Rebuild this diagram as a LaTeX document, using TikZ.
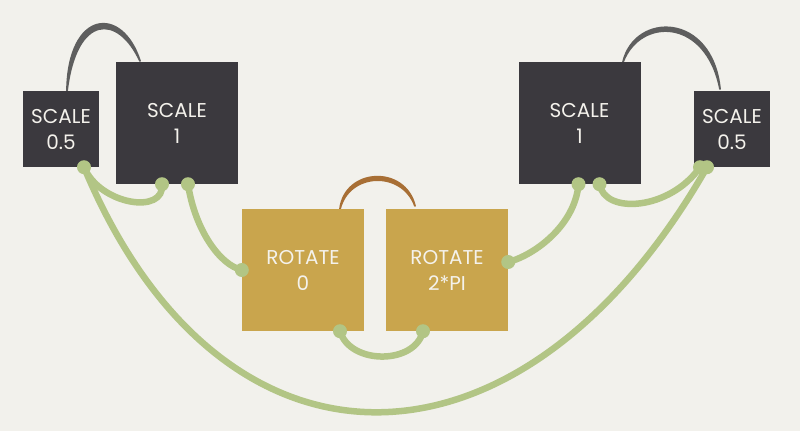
\documentclass[tikz,border=0pt]{standalone}
\usepackage{fontspec}
\setmainfont{Poppins}
\definecolor{paper}{HTML}{F2F1EC}
\definecolor{darkbox}{HTML}{3B393E}
\definecolor{goldbox}{HTML}{C9A54D}
\definecolor{wireg}{HTML}{B2C585}
\definecolor{arcgray}{HTML}{5E5E5E}
\definecolor{arcbrown}{HTML}{A86F35}
\definecolor{txt}{HTML}{F4F2EC}
\begin{document}
\begin{tikzpicture}[x=1pt,y=-1pt,
  box/.style={minimum width=#1, minimum height=#1, inner sep=0pt, align=center,
    text=txt, font=\fontsize{20}{26}\selectfont},
  scalebox/.style={box=#1, fill=darkbox},
  rotbox/.style={box=#1, fill=goldbox},
  wire/.style={draw=wireg, line width=6.5pt, line cap=round},
  arcg/.style={fill=arcgray, draw=arcgray, line width=1.8pt, line cap=round, line join=round},
  arcb/.style={fill=arcbrown, draw=arcbrown, line width=1.8pt, line cap=round, line join=round}]
\fill[paper] (0,0) rectangle (800,431);
\useasboundingbox (0,0) rectangle (800,431);

% tapered arcs behind boxes
\filldraw[arcg] (67,91) .. controls (68,10) and (122,5) .. (140,61)
   .. controls (118,13) and (76,14) .. (67,91) -- cycle;
\filldraw[arcg] (623,62) .. controls (635,12) and (712,12) .. (720,89)
   .. controls (706,17) and (640,17) .. (623,62) -- cycle;
\filldraw[arcb] (340,209) .. controls (345,168) and (405,165) .. (415,206)
   .. controls (402,170) and (349,172) .. (340,209) -- cycle;

\node[scalebox=76pt] (s05l) at (61,129) {SCALE\\0.5};
\node[scalebox=122pt] (s1l) at (177,123) {SCALE\\1};
\node[scalebox=122pt] (s1r) at (579.5,123) {SCALE\\1};
\node[scalebox=76pt] (s05r) at (732,129) {SCALE\\0.5};
\node[rotbox=122pt] (r0) at (303,270) {ROTATE\\0};
\node[rotbox=122pt] (r2) at (447,270) {ROTATE\\2*PI};

% endpoint coordinates
\coordinate (a1) at ([xshift=23pt]s05l.south);
\coordinate (b1) at ([xshift=-15pt]s1l.south);
\coordinate (b2) at ([xshift=11pt]s1l.south);
\coordinate (c1) at (r0.west);
\coordinate (c2) at ([xshift=37pt]r0.south);
\coordinate (d1) at ([xshift=-24pt]r2.south);
\coordinate (d2) at ([yshift=8pt]r2.east);
\coordinate (e1) at ([xshift=-1pt]s1r.south);
\coordinate (e2) at ([xshift=20pt]s1r.south);
\coordinate (f1) at ([xshift=-32pt]s05r.south);
\coordinate (f2) at ([xshift=-25pt]s05r.south);

\draw[wire] (a1) .. controls (100,205) and (165,215) .. (b1);
\draw[wire] (b2) .. controls (195,230) and (220,265) .. (c1);
\draw[wire] (a1) .. controls (220,494) and (520,494) .. (f2);
\draw[wire] (e1) .. controls (575,225) and (535,255) .. (d2);
\draw[wire] (e2) .. controls (605,215) and (670,210) .. (f1);
\draw[wire] (c2) .. controls (350,365) and (415,365) .. (d1);

\foreach \p in {a1,b1,b2,c1,c2,d1,d2,e1,e2,f1,f2}
  \fill[wireg] (\p) circle[radius=7pt];
\end{tikzpicture}
\end{document}
